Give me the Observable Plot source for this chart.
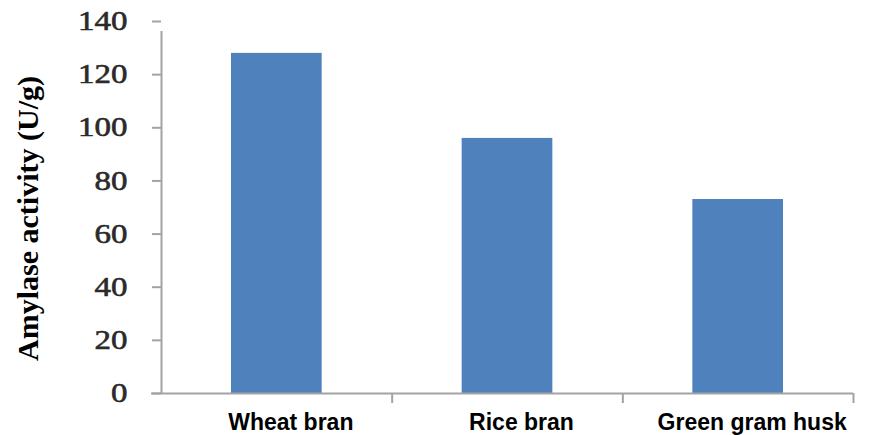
<!DOCTYPE html>
<html>
<head>
<meta charset="utf-8">
<script src="https://cdn.jsdelivr.net/npm/d3@7"></script>
<script src="https://cdn.jsdelivr.net/npm/@observablehq/plot@0.6"></script>
<style>
  html, body { margin: 0; padding: 0; background: #fff; }
</style>
</head>
<body>
<div id="chart"></div>
<script>
// Amylase activity by solid substrate
const categories = ["Wheat bran", "Rice bran", "Green gram husk"];
const activity = [128, 96, 73];
const yTicks = [0, 20, 40, 60, 80, 100, 120, 140];
const yTitle = "Amylase activity (U/g)";

const data = categories.map((c, i) => ({ i, category: c, value: activity[i] }));
const slots = d3.range(categories.length + 1); // category boundaries on the x axis

const axisGrey = "#a3a3a3";
const tickFontSize = 27;

const chart = Plot.plot({
  width: 875,
  height: 435,
  marginLeft: 161,
  marginRight: 22,
  marginTop: 21,
  marginBottom: 42,
  x: { domain: [0, categories.length], axis: null },
  y: { domain: [0, 140], axis: null },
  marks: [
    // bars, centred in each category slot
    Plot.rectY(data, {
      x1: d => d.i,
      x2: d => d.i + 1,
      y: "value",
      fill: "#4F81BD",
      insetLeft: 70,
      insetRight: 70
    }),
    // y axis line and ticks
    Plot.ruleX([0], { y1: 0, y2: 140, stroke: axisGrey, strokeWidth: 2, insetBottom: -10 }),
    Plot.ruleY(yTicks, { x1: 0, x2: 0, stroke: axisGrey, strokeWidth: 2, insetLeft: -9 }),
    // x axis line and category boundary ticks
    Plot.ruleY([0], { x1: 0, x2: categories.length, stroke: axisGrey, strokeWidth: 2, insetLeft: -10 }),
    Plot.ruleX(slots.slice(1), { y1: 0, y2: 0, stroke: axisGrey, strokeWidth: 2, insetBottom: -10 }),
    // y tick labels
    Plot.text(yTicks, {
      y: d => d,
      text: d => String(d),
      frameAnchor: "left",
      textAnchor: "end",
      dx: -34,
      fontFamily: "Liberation Serif, Times New Roman, serif",
      fontSize: tickFontSize,
      stroke: "#2a2a2a",
      strokeWidth: 0.6,
      fill: "#2a2a2a"
    }),
    // category labels
    Plot.text(data, {
      x: d => d.i + 0.5,
      y: 0,
      text: "category",
      dx: 14,
      dy: 29,
      fontFamily: "Liberation Sans, Arial, sans-serif",
      fontWeight: "bold",
      fontSize: 23,
      fill: "#000"
    }),
    // y axis title
    Plot.text([yTitle], {
      frameAnchor: "left",
      textAnchor: "middle",
      rotate: -90,
      dx: -133,
      dy: 11,
      fontFamily: "Liberation Serif, Times New Roman, serif",
      fontWeight: "bold",
      fontSize: 30,
      fill: "#000"
    })
  ]
});

// widen the tick numerals about their right edge
d3.select(chart)
  .selectAll(`g[font-size="${tickFontSize}"] text`)
  .attr("transform", function () {
    return `${this.getAttribute("transform") || ""} scale(1.22,1)`;
  });

document.getElementById("chart").appendChild(chart);
</script>
</body>
</html>
